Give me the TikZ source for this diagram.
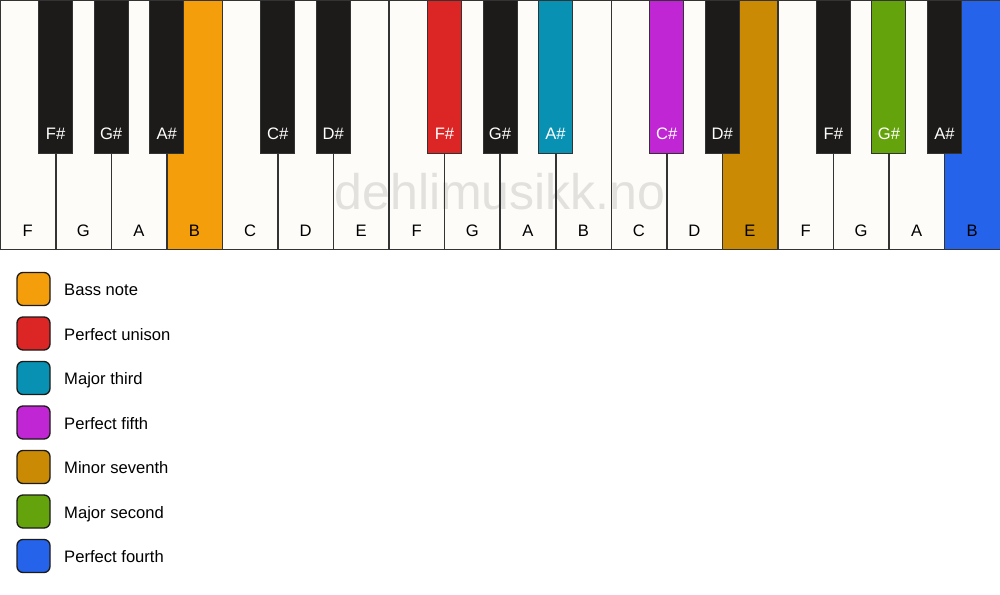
\documentclass[tikz,border=0pt]{standalone}
\usepackage{fontspec}
\setmainfont{Liberation Sans}
\definecolor{wk}{HTML}{FDFCF9}
\definecolor{bk}{HTML}{1C1B19}
\definecolor{edge}{HTML}{333333}
\definecolor{wmark}{HTML}{E2E1DE}
\definecolor{cBass}{HTML}{F59E0B}
\definecolor{cUni}{HTML}{DC2626}
\definecolor{cThird}{HTML}{0891B2}
\definecolor{cFifth}{HTML}{C026D3}
\definecolor{cSev}{HTML}{CA8A04}
\definecolor{cSec}{HTML}{65A30D}
\definecolor{cFourth}{HTML}{2563EB}
\tikzset{
  whitekey/.style={minimum width=55.556pt, minimum height=249pt, inner sep=0pt, anchor=north west},
  keyedge/.style={draw=edge, line width=1.2pt},
  blackkey/.style={draw=edge, line width=1pt, minimum width=34pt, minimum height=153pt, inner sep=0pt, anchor=north},
  wlabel/.style={font=\fontsize{16.6}{19}\selectfont, text=black, anchor=base, inner sep=0pt},
  blabel/.style={font=\fontsize{16.6}{19}\selectfont, text=white, anchor=base, inner sep=0pt},
  legbox/.style={draw=bk, line width=1.3pt, rounded corners=6pt, minimum width=33pt, minimum height=33pt, inner sep=0pt},
  legtext/.style={font=\fontsize{16.6}{19}\selectfont, anchor=base west, inner sep=0pt},
}
\begin{document}
\begin{tikzpicture}[x=1pt,y=-1pt]
\useasboundingbox (0,0) rectangle (1000,594);
\fill[white] (0,0) rectangle (1000,594);
% white keys (fill)
\foreach \i/\c in {0/wk,1/wk,2/wk,3/cBass,4/wk,5/wk,6/wk,7/wk,8/wk,9/wk,10/wk,11/wk,12/wk,13/cSev,14/wk,15/wk,16/wk,17/cFourth}{
  \node[whitekey, fill=\c] (w\i) at ({\i*55.556},0) {};
}
% watermark
\node[font=\fontsize{50}{56}\selectfont, text=wmark] (wm) at (500,192) {dehlimusikk.no};
% white key outlines and labels
\foreach \i/\n in {0/F,1/G,2/A,3/B,4/C,5/D,6/E,7/F,8/G,9/A,10/B,11/C,12/D,13/E,14/F,15/G,16/A,17/B}{
  \draw[keyedge] (w\i.north west) rectangle (w\i.south east);
  \node[wlabel] (wl\i) at ({\i*55.556+27.778},236) {\n};
}
% black keys
\foreach \i/\n/\c in {0/F\#/bk,1/G\#/bk,2/A\#/bk,4/C\#/bk,5/D\#/bk,7/F\#/cUni,8/G\#/bk,9/A\#/cThird,11/C\#/cFifth,12/D\#/bk,14/F\#/bk,15/G\#/cSec,16/A\#/bk}{
  \node[blackkey, fill=\c] (b\i) at ({(\i+1)*55.556},0) {};
  \node[blabel] (bl\i) at ({(\i+1)*55.556},139) {\n};
}
% legend
\foreach \k/\c/\t in {0/cBass/Bass note,1/cUni/Perfect unison,2/cThird/Major third,3/cFifth/Perfect fifth,4/cSev/Minor seventh,5/cSec/Major second,6/cFourth/Perfect fourth}{
  \node[legbox, fill=\c] (lb\k) at (33.5,{289+\k*44.5}) {};
  \node[legtext] (lt\k) at (64,{295.5+\k*44.5}) {\t};
}
\end{tikzpicture}
\end{document}
